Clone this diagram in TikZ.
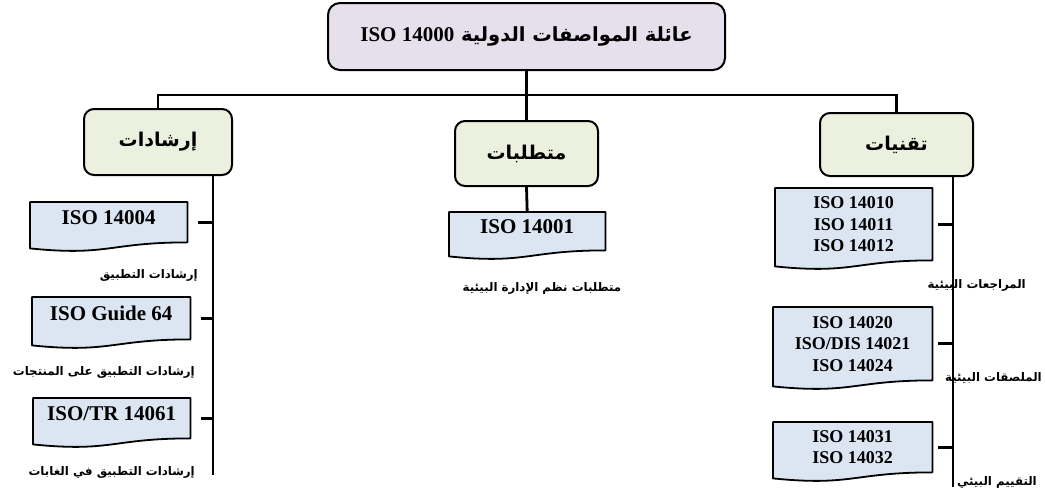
\documentclass[tikz,border=0pt]{standalone}
\usepackage{fontspec}
\setmainfont{Liberation Serif}
\newfontfamily\arabicfont[Script=Arabic]{DejaVu Sans}
\TeXXeTstate=1
\usetikzlibrary{calc,backgrounds}
\definecolor{famfill}{HTML}{E5E0EC}
\definecolor{catfill}{HTML}{EBF1DE}
\definecolor{docfill}{HTML}{DCE6F2}
% Arabic text, right to left, bold
\newcommand\artxt[1]{{\arabicfont\bfseries\beginR #1\endR}}

\begin{document}
\begin{tikzpicture}[x=1pt,y=-1pt,
  famnode/.style={draw, line width=2pt, rounded corners=12pt, fill=famfill,
    minimum width=397pt, minimum height=67pt, inner sep=0pt,
    font=\fontsize{19.5}{23}\selectfont},
  catnode/.style={draw, line width=2pt, rounded corners=10pt, fill=catfill,
    inner sep=0pt, font=\fontsize{19}{23}\selectfont},
  docnode/.style 2 args={anchor=north west, minimum width=#1pt, minimum height=#2pt,
    inner sep=0pt, align=center},
  bigdoc/.style={font=\fontsize{21}{24}\selectfont\bfseries, text depth=10pt},
  smalldoc/.style={font=\fontsize{18}{21.5}\selectfont\bfseries},
  docshape/.style={draw, line width=1.8pt, fill=docfill, line join=round},
  note/.style={inner sep=0pt, font=\fontsize{11.8}{14}\selectfont},
  conn/.style={line width=2.8pt}]
\useasboundingbox (0,0) rectangle (1045,491);

% family title
\node[famnode] (fam) at (526.5,36.5)
  {\artxt{عائلة المواصفات الدولية \beginL{\fontsize{21}{24}\selectfont\rmfamily\bfseries ISO 14000}\endL}};

% the three branches
\node[catnode, minimum width=148pt, minimum height=66pt] (guide) at (158,142) {\artxt{إرشادات}};
\node[catnode, minimum width=143pt, minimum height=65pt] (req) at (526.5,153.5) {\artxt{متطلبات}};
\node[catnode, minimum width=153pt, minimum height=63pt] (tech) at (896.5,144.5) {\artxt{تقنيات}};

% standards documents
\node[docnode={157}{40}, bigdoc] (dA) at (30,202) {ISO 14004};
\node[docnode={158}{42}, bigdoc] (dB) at (32,297) {ISO Guide 64};
\node[docnode={157}{40}, bigdoc] (dC) at (33,398) {ISO/TR 14061};
\node[docnode={156}{38}, bigdoc] (dM) at (449,212) {ISO 14001};
\node[docnode={157}{72}, smalldoc] (dR1) at (775,188) {ISO 14010\\ISO 14011\\ISO 14012};
\node[docnode={159}{73}, smalldoc] (dR2) at (773,307) {ISO 14020\\ISO/DIS 14021\\ISO 14024};
\node[docnode={159}{50}, smalldoc] (dR3) at (773,422) {ISO 14031\\ISO 14032};

\begin{scope}[on background layer]
\foreach \d in {dA,dB,dC,dM,dR1,dR2,dR3}{
  \path[docshape] let \p1=(\d.north west), \p2=(\d.south east) in
    (\p1) -- (\x2,\y1) -- (\p2)
    .. controls (\x1/2+\x2/2,\y2) and (\x1/2+\x2/2,\y2-14pt) .. (\x1,\y2-6pt) -- cycle;
}
\end{scope}

% captions
\node[note, anchor=east] (nA) at (198,275) {\artxt{إرشادات التطبيق}};
\node[note, anchor=east] (nB) at (195,372) {\artxt{إرشادات التطبيق على المنتجات}};
\node[note, anchor=east] (nC) at (195,472) {\artxt{إرشادات التطبيق في الغابات}};
\node[note] (nM) at (542,288) {\artxt{متطلبات نظم الإدارة البيئية}};
\node[note, anchor=east] (nR1) at (1026,285) {\artxt{المراجعات البيئية}};
\node[note, anchor=east] (nR2) at (1042,378) {\artxt{الملصقات البيئية}};
\node[note, anchor=east] (nR3) at (1037,482) {\artxt{التقييم البيئي}};

% connectors
\coordinate (bus) at (0,95);
\coordinate (tL) at (213,475);
\coordinate (tR) at (953,487);
\draw[conn] (fam.south) -- (req.north);
\draw[conn] (guide.north) -- (guide.north |- bus) -- (tech.north |- bus) -- (tech.north);
\draw[conn] (req.south) -- (dM.north);
\draw[conn] (guide.south -| tL) -- (tL);
\draw[conn] (tech.south -| tR) -- (tR);
\foreach \d in {dA,dB,dC}
  \draw[conn] (tL |- \d.east) -- ($(\d.east)+(11,0)$);
\foreach \d in {dR1,dR2,dR3}
  \draw[conn] (tR |- \d.east) -- ($(\d.east)+(6,0)$);
\end{tikzpicture}
\end{document}
